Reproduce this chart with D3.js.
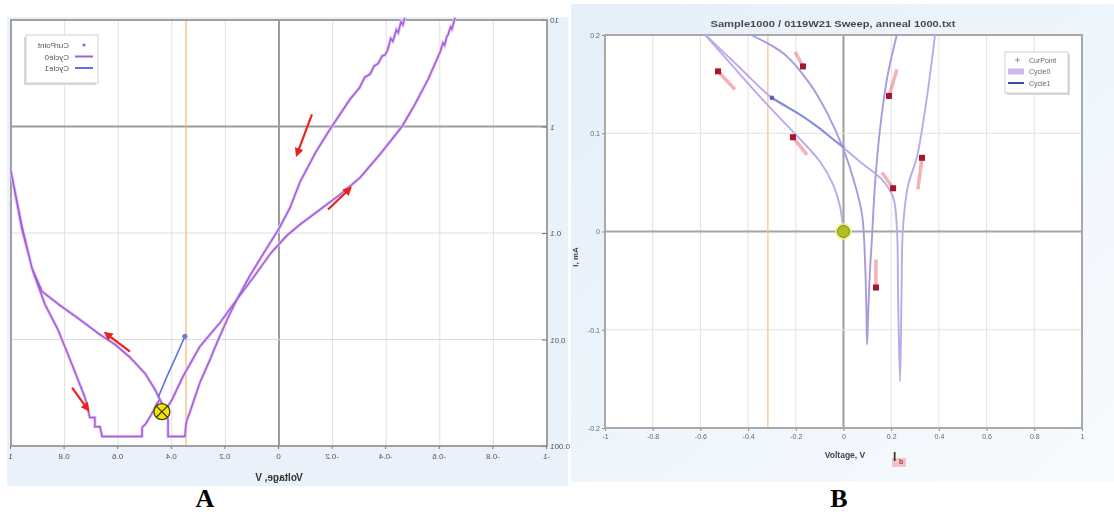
<!DOCTYPE html>
<html>
<head>
<meta charset="utf-8">
<script src="https://cdn.jsdelivr.net/npm/d3@7"></script>
<style>
  body { margin: 0; background: #fff; }
  svg { display: block; }
</style>
</head>
<body>
<svg id="fig"></svg>
<script>
// ---- panel A : log current vs voltage (picture is mirrored left/right) ----
const aVoltTicks = [-1, -0.8, -0.6, -0.4, -0.2, 0, 0.2, 0.4, 0.6, 0.8, 1];
const aCurrTicks = [0.001, 0.01, 0.1, 1, 10];

// cycle 0, sweep out (meeting point -> +1 V -> back -> negative side, off the top)
const aCycle0Out = [
  [0.444, 0.00273], [0.463, 0.0034], [0.500, 0.0048], [0.556, 0.0068], [0.612, 0.0090],
  [0.668, 0.0111], [0.743, 0.0154], [0.817, 0.0209], [0.884, 0.0282], [0.922, 0.047],
  [0.959, 0.115], [1.0, 0.378],
  [0.959, 0.108], [0.918, 0.0435], [0.873, 0.0213], [0.825, 0.0124], [0.772, 0.0058],
  [0.724, 0.00285], [0.706, 0.00185], [0.687, 0.00185], [0.687, 0.00152], [0.668, 0.00152],
  [0.660, 0.00123], [0.511, 0.00123], [0.511, 0.00149], [0.496, 0.00163], [0.481, 0.00189],
  [0.470, 0.00211], [0.455, 0.00251], [0.444, 0.00273],
  [0.425, 0.0022], [0.418, 0.00202], [0.414, 0.00175], [0.414, 0.00123], [0.351, 0.00123],
  [0.347, 0.00160], [0.343, 0.00177], [0.332, 0.0021], [0.295, 0.00395], [0.257, 0.0065],
  [0.231, 0.0094], [0.190, 0.0161], [0.157, 0.0238], [0.09, 0.040], [0.03, 0.065],
  [-0.03, 0.095], [-0.078, 0.12], [-0.153, 0.166], [-0.228, 0.23], [-0.302, 0.33],
  [-0.377, 0.55], [-0.459, 1.0], [-0.507, 1.61], [-0.556, 2.76], [-0.601, 5.0],
  [-0.612, 6.1], [-0.618, 5.8], [-0.626, 7.0], [-0.631, 7.3], [-0.640, 8.6],
  [-0.645, 8.2], [-0.657, 10.5]
];
// cycle 0, sweep back (from the top down to the marker)
const aCycle0Back = [
  [-0.470, 10.5], [-0.462, 9.0], [-0.455, 9.6], [-0.445, 7.6], [-0.438, 8.1],
  [-0.425, 6.3], [-0.417, 6.7], [-0.405, 5.2], [-0.396, 4.7], [-0.385, 4.6],
  [-0.370, 3.9], [-0.355, 3.7], [-0.340, 3.1], [-0.320, 2.9], [-0.300, 2.3],
  [-0.265, 1.8], [-0.190, 0.94], [-0.138, 0.58], [-0.078, 0.30], [-0.040, 0.17],
  [0, 0.11], [0.052, 0.068], [0.108, 0.040], [0.157, 0.0238], [0.220, 0.0144],
  [0.295, 0.0086], [0.358, 0.0045], [0.399, 0.00273], [0.422, 0.0022]
];
const aCycle1 = [[0.451, 0.00285], [0.418, 0.0045], [0.388, 0.0066], [0.351, 0.0107]];
const aCurPoint = [0.351, 0.0107];
const aMarkerV = 0.347;
const aCross = [0.437, 0.0021];
// red direction arrows [tailV, tailI, headV, headI]
const aArrows = [
  [-0.123, 1.30, -0.067, 0.546],
  [-0.183, 0.166, -0.265, 0.262],
  [0.556, 0.0077, 0.646, 0.0114],
  [0.772, 0.00354, 0.713, 0.0022]
];
const aLegend = ["CurPoint", "Cycle0", "Cycle1"];

// ---- panel B : linear current vs voltage ----
const bVoltTicks = [-1, -0.8, -0.6, -0.4, -0.2, 0, 0.2, 0.4, 0.6, 0.8, 1];
const bCurrTicks = [-0.2, -0.1, 0, 0.1, 0.2];
const bCycle0 = [
  [[-0.581, 0.2005], [-0.434, 0.160], [-0.308, 0.126], [-0.182, 0.094], [-0.098, 0.071],
   [-0.044, 0.048], [-0.015, 0.026], [0, 0]],
  [[-0.392, 0.2005], [-0.245, 0.180], [-0.140, 0.150], [-0.065, 0.119], [0, 0.0835],
   [0.048, 0.048], [0.078, 0.017], [0.090, -0.0285], [0.096, -0.08], [0.099, -0.115],
   [0.104, -0.08], [0.111, -0.040], [0.119, -0.008], [0.132, 0.048], [0.153, 0.104],
   [0.182, 0.155], [0.224, 0.2005]],
  [[-0.581, 0.2005], [-0.440, 0.168], [-0.300, 0.136], [-0.170, 0.117], [-0.044, 0.094],
   [0.069, 0.071], [0.161, 0.053], [0.208, 0.035], [0.224, 0.002], [0.229, -0.069],
   [0.237, -0.153], [0.243, -0.069], [0.249, 0.002], [0.270, 0.046], [0.308, 0.076],
   [0.350, 0.137], [0.384, 0.2005]]
];
const bCycle1 = [[-0.300, 0.136], [-0.236, 0.127], [-0.170, 0.117], [-0.100, 0.105], [-0.044, 0.094], [0.006, 0.085]];
const bCurPoint = [-0.300, 0.136];
const bMarkerV = -0.317;
const bCross = [0, 0];
// pink arrows with a square at the first end [squareV, squareI, endV, endI]
const bArrows = [
  [-0.526, 0.163, -0.455, 0.1445],
  [-0.170, 0.168, -0.203, 0.183],
  [-0.212, 0.096, -0.153, 0.078],
  [0.191, 0.138, 0.224, 0.165],
  [0.329, 0.075, 0.312, 0.043],
  [0.208, 0.044, 0.161, 0.060],
  [0.136, -0.057, 0.136, -0.0285]
];
const bTitle = "Sample1000 / 0119W21 Sweep, anneal 1000.txt";
const bLegend = ["CurPoint", "Cycle0", "Cycle1"];

const W = 1114, H = 512;
const svg = d3.select("#fig")
    .attr("width", W)
    .attr("height", H)
    .style("font-family", "'Liberation Sans', Arial, sans-serif");

const defs = svg.append("defs");
defs.append("filter").attr("id", "blurA")
    .append("feGaussianBlur").attr("stdDeviation", 0.35);
defs.append("filter").attr("id", "blurB")
    .append("feGaussianBlur").attr("stdDeviation", 0.6);
defs.append("marker")
    .attr("id", "redHead")
    .attr("viewBox", "0 0 10 10")
    .attr("refX", 7).attr("refY", 5)
    .attr("markerWidth", 9).attr("markerHeight", 9)
    .attr("markerUnits", "userSpaceOnUse")
    .attr("orient", "auto")
  .append("path")
    .attr("d", "M0,0L10,5L0,10z")
    .attr("fill", "#e8241d");
const grad = defs.append("linearGradient").attr("id", "bgB")
    .attr("x1", 0).attr("y1", 0).attr("x2", 1).attr("y2", 1);
grad.append("stop").attr("offset", "0%").attr("stop-color", "#e4effa");
grad.append("stop").attr("offset", "100%").attr("stop-color", "#f7fbfe");

// =================== panel A ===================
svg.append("rect")
    .attr("x", 7).attr("y", 17).attr("width", 561).attr("height", 469)
    .attr("fill", "#e9f2fb");

// drawn as a normal chart, then flipped horizontally like the picture
const gA = svg.append("g")
    .attr("transform", "translate(569,0) scale(-1,1)")
    .attr("filter", "url(#blurA)");

const xA = d3.scaleLinear().domain([-1, 1]).range([22, 558]);
const yA = d3.scaleLog().domain([0.001, 10]).range([446, 20]);

gA.append("rect")
    .attr("x", 22).attr("y", 20).attr("width", 536).attr("height", 426)
    .attr("fill", "#fff");

gA.selectAll(".vgrid")
    .data(aVoltTicks)
    .join("line")
    .attr("x1", d => xA(d)).attr("x2", d => xA(d))
    .attr("y1", 20).attr("y2", 446)
    .attr("stroke", d => d === 0 ? "#9c9c9c" : "#e0e0e0")
    .attr("stroke-width", d => d === 0 ? 2 : 1);

gA.selectAll(".hgrid")
    .data(aCurrTicks)
    .join("line")
    .attr("x1", 22).attr("x2", 558)
    .attr("y1", d => yA(d)).attr("y2", d => yA(d))
    .attr("stroke", d => d === 1 ? "#9c9c9c" : "#dcdcdc")
    .attr("stroke-width", d => d === 1 ? 2 : 1);

gA.append("line")
    .attr("x1", xA(aMarkerV)).attr("x2", xA(aMarkerV))
    .attr("y1", 20).attr("y2", 446)
    .attr("stroke", "#f7b46a").attr("stroke-width", 1.2);

const axAx = gA.append("g")
    .attr("transform", "translate(0,446)")
    .call(d3.axisBottom(xA).tickValues(aVoltTicks).tickSize(3).tickPadding(4)
        .tickFormat(d => String(+d.toFixed(1))));
const axAy = gA.append("g")
    .attr("transform", "translate(22,0)")
    .call(d3.axisLeft(yA).tickValues(aCurrTicks).tickSize(-5).tickPadding(3)
        .tickFormat(d3.format("~g")));
[axAx, axAy].forEach(ax => {
    ax.select(".domain").remove();
    ax.selectAll("line").attr("stroke", "#777");
    ax.selectAll("text").attr("fill", "#555").style("font-size", "8px");
});

gA.append("rect")
    .attr("x", 22).attr("y", 20).attr("width", 536).attr("height", 426)
    .attr("fill", "none").attr("stroke", "#8e8e8e").attr("stroke-width", 1.6);

gA.append("text")
    .attr("x", 290).attr("y", 481)
    .attr("text-anchor", "middle")
    .attr("fill", "#333")
    .style("font-size", "10px").style("font-weight", "bold")
    .text("Voltage, V");

const lineA = d3.line().x(d => xA(d[0])).y(d => yA(d[1]));
[aCycle0Out, aCycle0Back].forEach(s => {
    gA.append("path").attr("d", lineA(s))
        .attr("fill", "none").attr("stroke", "#e3c6f4").attr("stroke-width", 3.2);
});
[aCycle0Out, aCycle0Back].forEach(s => {
    gA.append("path").attr("d", lineA(s))
        .attr("fill", "none").attr("stroke", "#a05ddc").attr("stroke-width", 1.5);
});
gA.append("path").attr("d", lineA(aCycle1))
    .attr("fill", "none").attr("stroke", "#5f70e4").attr("stroke-width", 1.6);
gA.append("circle")
    .attr("cx", xA(aCurPoint[0])).attr("cy", yA(aCurPoint[1])).attr("r", 2.6)
    .attr("fill", "#6b7ce6");

gA.selectAll(".arrA")
    .data(aArrows)
    .join("line")
    .attr("x1", d => xA(d[0])).attr("y1", d => yA(d[1]))
    .attr("x2", d => xA(d[2])).attr("y2", d => yA(d[3]))
    .attr("stroke", "#e8241d").attr("stroke-width", 2.2)
    .attr("marker-end", "url(#redHead)");

const crossA = gA.append("g")
    .attr("transform", `translate(${xA(aCross[0])},${yA(aCross[1])})`);
crossA.append("circle").attr("r", 8)
    .attr("fill", "#f3e500").attr("stroke", "#3b3a10").attr("stroke-width", 1.3);
crossA.append("path").attr("d", "M-5.6,-5.6L5.6,5.6M-5.6,5.6L5.6,-5.6")
    .attr("stroke", "#3b3a10").attr("stroke-width", 1.2);

// legend (lands at top-left after the flip)
const legA = gA.append("g").attr("transform", "translate(471,35)");
legA.append("rect").attr("x", 2).attr("y", 2).attr("width", 72).attr("height", 48)
    .attr("fill", "#d5d9de");
legA.append("rect").attr("width", 72).attr("height", 48)
    .attr("fill", "#fff").attr("stroke", "#d0d0d0");
legA.selectAll(".it")
    .data(aLegend)
    .join("g")
    .attr("transform", (d, i) => `translate(0,${10 + i * 11.5})`)
    .each(function (d, i) {
        const g = d3.select(this);
        if (i === 0) {
            g.append("circle").attr("cx", 14).attr("cy", 0).attr("r", 1.6).attr("fill", "#6b7ce6");
        } else {
            g.append("line").attr("x1", 5).attr("x2", 23).attr("y1", 0).attr("y2", 0)
                .attr("stroke", i === 1 ? "#a05ddc" : "#5f70e4").attr("stroke-width", 2);
        }
        g.append("text").attr("x", 29).attr("y", 3)
            .attr("fill", "#555").style("font-size", "8px").text(d);
    });

// =================== panel B ===================
svg.append("rect")
    .attr("x", 571).attr("y", 4).attr("width", 543).attr("height", 478)
    .attr("fill", "url(#bgB)");

const gB = svg.append("g").attr("filter", "url(#blurB)");
const xB = d3.scaleLinear().domain([-1, 1]).range([605, 1082]);
const yB = d3.scaleLinear().domain([-0.2, 0.2]).range([428, 35]);

gB.append("rect")
    .attr("x", 605).attr("y", 35).attr("width", 477).attr("height", 393)
    .attr("fill", "#fff");

gB.selectAll(".vgrid")
    .data(bVoltTicks)
    .join("line")
    .attr("x1", d => xB(d)).attr("x2", d => xB(d))
    .attr("y1", 35).attr("y2", 428)
    .attr("stroke", d => d === 0 ? "#a4a4a4" : "#e2e2e2")
    .attr("stroke-width", d => d === 0 ? 2.2 : 1);

gB.selectAll(".hgrid")
    .data(bCurrTicks)
    .join("line")
    .attr("x1", 605).attr("x2", 1082)
    .attr("y1", d => yB(d)).attr("y2", d => yB(d))
    .attr("stroke", d => d === 0 ? "#a4a4a4" : "#e2e2e2")
    .attr("stroke-width", d => d === 0 ? 2.2 : 1);

gB.append("line")
    .attr("x1", xB(bMarkerV)).attr("x2", xB(bMarkerV))
    .attr("y1", 35).attr("y2", 428)
    .attr("stroke", "#f6c48e").attr("stroke-width", 1.3);

const axBx = gB.append("g")
    .attr("transform", "translate(0,428)")
    .call(d3.axisBottom(xB).tickValues(bVoltTicks).tickSize(3).tickPadding(3)
        .tickFormat(d => String(+d.toFixed(1))));
const axBy = gB.append("g")
    .attr("transform", "translate(605,0)")
    .call(d3.axisLeft(yB).tickValues(bCurrTicks).tickSize(3).tickPadding(2)
        .tickFormat(d => String(+d.toFixed(1))));
[axBx, axBy].forEach(ax => {
    ax.select(".domain").remove();
    ax.selectAll("line").attr("stroke", "#888");
    ax.selectAll("text").attr("fill", "#666").style("font-size", "7px");
});

gB.append("rect")
    .attr("x", 605).attr("y", 35).attr("width", 477).attr("height", 393)
    .attr("fill", "none").attr("stroke", "#a9a9a9").attr("stroke-width", 2);

gB.append("text")
    .attr("x", 833).attr("y", 27)
    .attr("text-anchor", "middle")
    .attr("fill", "#4a4a4a")
    .attr("textLength", 245).attr("lengthAdjust", "spacingAndGlyphs")
    .style("font-size", "8.5px").style("font-weight", "bold")
    .text(bTitle);

gB.append("text")
    .attr("x", 845).attr("y", 458)
    .attr("text-anchor", "middle")
    .attr("fill", "#444")
    .style("font-size", "8.5px").style("font-weight", "bold")
    .text("Voltage, V");
gB.append("rect").attr("x", 892).attr("y", 458).attr("width", 14).attr("height", 9)
    .attr("fill", "#f1c2c6");
gB.append("text").attr("x", 893).attr("y", 461)
    .attr("fill", "#333").style("font-size", "12px").style("font-weight", "bold").text("I");
gB.append("text").attr("x", 899).attr("y", 464)
    .attr("fill", "#b33").style("font-size", "7px").style("font-weight", "bold").text("b");

gB.append("text")
    .attr("transform", "translate(578,257) rotate(-90)")
    .attr("text-anchor", "middle")
    .attr("fill", "#444")
    .style("font-size", "8px").style("font-weight", "bold")
    .text("I, mA");

const lineB = d3.line().x(d => xB(d[0])).y(d => yB(d[1])).curve(d3.curveCatmullRom.alpha(0.5));
gB.selectAll(".c0")
    .data(bCycle0)
    .join("path")
    .attr("d", d => lineB(d))
    .attr("fill", "none")
    .attr("stroke", (d, i) => i === 1 ? "#a99ade" : "#bca9ea")
    .attr("stroke-width", 1.9);
gB.append("path").attr("d", lineB(bCycle1))
    .attr("fill", "none").attr("stroke", "#7d8ede").attr("stroke-width", 1.8);
gB.append("circle")
    .attr("cx", xB(bCurPoint[0])).attr("cy", yB(bCurPoint[1])).attr("r", 2.4)
    .attr("fill", "#5a63b8");

gB.selectAll(".arrB")
    .data(bArrows)
    .join("line")
    .attr("x1", d => xB(d[0])).attr("y1", d => yB(d[1]))
    .attr("x2", d => xB(d[2])).attr("y2", d => yB(d[3]))
    .attr("stroke", "#ee7d88").attr("stroke-opacity", 0.6).attr("stroke-width", 3.5);
gB.selectAll(".sqB")
    .data(bArrows)
    .join("rect")
    .attr("x", d => xB(d[0]) - 3).attr("y", d => yB(d[1]) - 3)
    .attr("width", 6).attr("height", 6)
    .attr("fill", "#a3132d");

const crossB = gB.append("g")
    .attr("transform", `translate(${xB(bCross[0])},${yB(bCross[1])})`);
crossB.append("circle").attr("r", 8.5).attr("fill", "#eef27a").attr("opacity", 0.8);
crossB.append("circle").attr("r", 6)
    .attr("fill", "#b2bd2c").attr("stroke", "#7c8420").attr("stroke-width", 1);

const legB = gB.append("g").attr("transform", "translate(1005,52)");
legB.append("rect").attr("x", 2).attr("y", 2).attr("width", 63).attr("height", 41)
    .attr("fill", "#d3d8de");
legB.append("rect").attr("width", 63).attr("height", 41)
    .attr("fill", "#fff").attr("stroke", "#cfcfcf");
legB.selectAll(".it")
    .data(bLegend)
    .join("g")
    .attr("transform", (d, i) => `translate(0,${8 + i * 11.5})`)
    .each(function (d, i) {
        const g = d3.select(this);
        if (i === 0) {
            g.append("path").attr("d", "M10,0h5M12.5,-2.5v5").attr("stroke", "#8a93c8").attr("stroke-width", 1);
        } else if (i === 1) {
            g.append("rect").attr("x", 3).attr("y", -3).attr("width", 16).attr("height", 6).attr("fill", "#cdb8ef");
        } else {
            g.append("line").attr("x1", 3).attr("x2", 19).attr("y1", 0).attr("y2", 0)
                .attr("stroke", "#3e4ba6").attr("stroke-width", 2);
        }
        g.append("text").attr("x", 24).attr("y", 2.5)
            .attr("fill", "#666").style("font-size", "7px").text(d);
    });

// =================== captions ===================
svg.selectAll(".cap")
    .data([["A", 205], ["B", 839]])
    .join("text")
    .attr("x", d => d[1]).attr("y", 507)
    .attr("text-anchor", "middle")
    .attr("fill", "#000")
    .style("font-family", "'Liberation Serif', 'Times New Roman', serif")
    .style("font-size", "26px").style("font-weight", "bold")
    .text(d => d[0]);
</script>
</body>
</html>
